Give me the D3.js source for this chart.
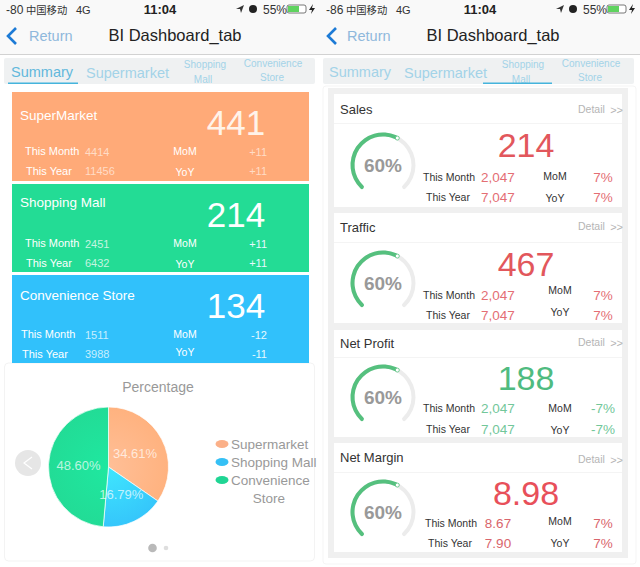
<!DOCTYPE html>
<html>
<head>
    <meta charset="utf-8">
    <title>BI Dashboard_tab</title>
    <script src="https://d3js.org/d3.v7.min.js"></script>
    <style>
        html, body { margin: 0; padding: 0; background: #fff; overflow: hidden; }
        svg { display: block; }
        text { font-family: "Liberation Sans", "Noto Sans CJK SC", sans-serif; }
    </style>
</head>
<body>
<div id="chart"></div>
<script>
    // summary tab
    const storeNames = ['SuperMarket', 'Shopping Mall', 'Convenience Store'];
    const storeTotals = ['441', '214', '134'];
    const storeMonth = ['4414', '2451', '1511'];
    const storeYear = ['11456', '6432', '3988'];
    const storeMoM = ['+11', '+11', '-12'];
    const storeYoY = ['+11', '+11', '-11'];

    // pie
    const pieNames = ['Supermarket', 'Shopping Mall', 'Convenience Store'];
    const pieValues = [34.61, 16.79, 48.60];

    // shopping mall tab
    const kpiNames = ['Sales', 'Traffic', 'Net Profit', 'Net Margin'];
    const kpiTotals = ['214', '467', '188', '8.98'];
    const kpiMonth = ['2,047', '2,047', '2,047', '8.67'];
    const kpiYear = ['7,047', '7,047', '7,047', '7.90'];
    const kpiMoM = ['7%', '7%', '-7%', '7%'];
    const kpiYoY = ['7%', '7%', '-7%', '7%'];
    const kpiGauge = [60, 60, 60, 60];

    const svg = d3.select('#chart').append('svg').attr('width', 640).attr('height', 567);

    function label(g, x, y, str, size, fill, anchor, weight) {
        return g.append('text')
            .attr('x', x).attr('y', y)
            .attr('font-size', size)
            .attr('fill', fill)
            .attr('text-anchor', anchor || 'start')
            .attr('font-weight', weight || 'normal')
            .text(str);
    }

    // 상단 상태바 + 네비게이션 + 탭
    function drawHeader(dx, signal, tabs, underline) {
        const g = svg.append('g').attr('transform', `translate(${dx},0)`);
        g.append('rect').attr('width', 320).attr('height', 54).attr('fill', '#f9f9f9');
        g.append('rect').attr('y', 54).attr('width', 320).attr('height', 1).attr('fill', '#d2d2d2');

        label(g, 6, 14, signal, 12, '#333');
        label(g, 26, 14, '中国移动', 10.3, '#333');
        label(g, 76, 14, '4G', 11, '#333');
        label(g, 160, 14, '11:04', 13, '#222', 'middle', 'bold');

        // location arrow, alarm
        g.append('path').attr('d', 'M236,9 L244,5 L241,13 L240,9 Z').attr('fill', '#333');
        g.append('circle').attr('cx', 253).attr('cy', 9).attr('r', 4).attr('fill', '#222');
        label(g, 263, 14, '55%', 12, '#333');
        g.append('rect').attr('x', 287).attr('y', 5).attr('width', 19).attr('height', 8).attr('rx', 2)
            .attr('fill', '#fff').attr('stroke', '#555').attr('stroke-width', 0.8);
        g.append('rect').attr('x', 288).attr('y', 6).attr('width', 11).attr('height', 6).attr('fill', '#5fd35f');
        g.append('path').attr('d', 'M313,4 L309,10 L312,10 L311,14 L315,8 L312,8 Z').attr('fill', '#222');

        g.append('path').attr('d', 'M16,28 L8,36 L16,44')
            .attr('fill', 'none').attr('stroke', '#1d7bd6').attr('stroke-width', 2.6);
        label(g, dx ? 27 : 29, 41, 'Return', 14.5, '#8fb8dc');
        label(g, dx ? 173 : 175, 41, 'BI Dashboard_tab', 16.5, '#222', 'middle');

        g.append('rect').attr('x', dx ? 3 : 4).attr('y', 58).attr('width', 311).attr('height', 26)
            .attr('rx', 2).attr('fill', '#eff1f2');
        const off = dx ? -2 : 0;
        label(g, 11 + off, 77, tabs[0], 14.5, underline === 0 ? '#62b8dc' : '#a3d3e8');
        label(g, 86 + off, 78, tabs[1], 14.5, '#a3d3e8');
        label(g, 205 + off, 68, 'Shopping', 10, '#a3d3e8', 'middle');
        label(g, 203 + off, 83, 'Mall', 10, '#a3d3e8', 'middle');
        label(g, 273 + off, 67, 'Convenience', 10, '#a3d3e8', 'middle');
        label(g, 272 + off, 81, 'Store', 10, '#a3d3e8', 'middle');
        const ux = underline === 0 ? [8, 78] : [163, 232];
        g.append('rect').attr('x', ux[0]).attr('y', 82.5).attr('width', ux[1] - ux[0]).attr('height', 1.5)
            .attr('fill', '#45b4dc');
    }

    drawHeader(0, '-80', ['Summary', 'Supermarket'], 0);
    drawHeader(320, '-86', ['Summary', 'Supermarket'], 2);

    // ---- 왼쪽: summary
    const left = svg.append('g');
    left.append('rect').attr('x', 4.5).attr('y', 363).attr('width', 310).attr('height', 198).attr('rx', 4)
        .attr('fill', '#fff').attr('stroke', '#f3f3f3');

    const cardColors = ['#ffaa78', '#23dc95', '#31c1fb'];
    const cardTops = [92, 184, 275];
    const cardHeights = [89, 88, 88];
    const cardTitleY = [28, 23, 25];
    const valueFills = ['#ffdcc6', '#c4f5e0', '#c8eefe'];
    const changeFills = ['#ffdcc6', '#e6f9ff', '#e6f9ff'];
    const labelDx = [0, 0, -4];
    const cardYoyY = [84, 84, 81];

    storeNames.forEach((name, i) => {
        const g = left.append('g').attr('transform', `translate(0,${cardTops[i]})`);
        g.append('rect').attr('x', 12).attr('width', 297).attr('height', cardHeights[i]).attr('fill', cardColors[i]);
        label(g, 20, cardTitleY[i], name, 13.5, '#fff');
        label(g, 236, 43, storeTotals[i], 35, i === 0 ? '#fff3e9' : '#fff', 'middle');
        label(g, 25 + labelDx[i], 63, 'This Month', 11, '#fff');
        label(g, 26 + labelDx[i], 83, 'This Year', 11, '#fff');
        label(g, 85, 64, storeMonth[i], 11, valueFills[i]);
        label(g, 85, 83, storeYear[i], 11, valueFills[i]);
        label(g, 185, 63, 'MoM', 10.5, '#fff', 'middle');
        label(g, 185, cardYoyY[i], 'YoY', 10.5, '#fff', 'middle');
        label(g, 267, 64, storeMoM[i], 11, changeFills[i], 'end');
        label(g, 267, 83, storeYoY[i], 11, changeFills[i], 'end');
    });

    // pie
    label(left, 158, 392, 'Percentage', 14, '#999', 'middle');

    const pieColors = d3.scaleOrdinal().domain(pieNames).range(['#ffb27f', '#35c6fb', '#22dc96']);
    const pieInner = d3.scaleOrdinal().domain(pieNames).range(['#ffbf97', '#3fe7fd', '#1fe8a0']);

    const defs = svg.append('defs');
    pieNames.forEach((name, i) => {
        const grad = defs.append('radialGradient').attr('id', 'slice' + i)
            .attr('gradientUnits', 'userSpaceOnUse')
            .attr('cx', 0).attr('cy', 0).attr('r', 60);
        grad.append('stop').attr('offset', '0%').attr('stop-color', pieInner(name));
        grad.append('stop').attr('offset', '100%').attr('stop-color', pieColors(name));
    });

    const pieG = left.append('g').attr('transform', 'translate(108.5,467)');
    const slices = d3.pie().sort(null).value(d => d)(pieValues);
    const arc = d3.arc().innerRadius(0).outerRadius(60);
    const labelArc = d3.arc().innerRadius(30).outerRadius(30);

    pieG.selectAll('path').data(slices).join('path')
        .attr('d', arc)
        .attr('fill', (d, i) => `url(#slice${i})`)
        .attr('stroke', '#fff')
        .attr('stroke-width', 0.7);

    pieG.selectAll('text').data(slices).join('text')
        .attr('transform', d => `translate(${labelArc.centroid(d)})`)
        .attr('dy', '0.35em')
        .attr('text-anchor', 'middle')
        .attr('font-size', 13)
        .attr('fill', '#fff')
        .attr('fill-opacity', 0.7)
        .text(d => d.value.toFixed(2) + '%');

    // legend
    const legendY = [444, 462, 480];
    const legendFill = ['#fbb088', '#35c0f5', '#20d594'];
    legendY.forEach((y, i) => {
        left.append('ellipse').attr('cx', 222).attr('cy', y).attr('rx', 6.5).attr('ry', 4).attr('fill', legendFill[i]);
    });
    label(left, 231, 449, pieNames[0], 13.5, '#999');
    label(left, 231, 467, pieNames[1], 13.5, '#999');
    label(left, 231, 485, pieNames[2].split(' ')[0], 13.5, '#999');
    label(left, 269, 503, pieNames[2].split(' ')[1], 13.5, '#999', 'middle');

    left.append('circle').attr('cx', 28).attr('cy', 463).attr('r', 13).attr('fill', '#e6e6e6');
    left.append('path').attr('d', 'M32,457 L24,463 L32,469').attr('fill', 'none').attr('stroke', '#fff').attr('stroke-width', 1.2);
    left.append('circle').attr('cx', 152.5).attr('cy', 548).attr('r', 4.3).attr('fill', '#b9b9b9');
    left.append('circle').attr('cx', 166).attr('cy', 548).attr('r', 2.3).attr('fill', '#dedede');

    // ---- 오른쪽: shopping mall
    const right = svg.append('g').attr('transform', 'translate(320,0)');
    right.append('rect').attr('x', 3).attr('y', 86).attr('width', 313).attr('height', 478).attr('rx', 3)
        .attr('fill', '#fff').attr('stroke', '#f5f5f5');
    right.append('rect').attr('x', 8).attr('y', 88).attr('width', 300).attr('height', 470).attr('fill', '#f0f0f0');

    const kpiTops = [94, 213, 330, 443];
    const kpiHeights = [113, 110, 107, 109];
    const kpiLine = [29, 29, 27, 29];
    const kpiCenter = [71, 70, 67, 69];
    const kpiBase = [63, 63, 60, 62];
    const kpiFill = ['#e2575c', '#e2575c', '#4fbb80', '#e8505a'];
    const kpiSub = ['#e46e74', '#e46e74', '#72c79a', '#d9656c'];
    const titleY = [20, 19, 18, 19];
    const detailY = [19, 17, 16, 20];
    const monthY = [87, 86, 82, 84];
    const yearY = [107, 106, 103, 104];
    const momY = [86, 81, 82, 82];
    const yoyY = [108, 103, 104, 104];
    const labelDxKpi = [0, 0, 0, 2];

    const gaugeAngle = d3.scaleLinear().domain([0, 100]).range([-140, 140].map(d => d * Math.PI / 180));
    const gaugeArc = d3.arc().innerRadius(28.5).outerRadius(32.5).cornerRadius(2);

    kpiNames.forEach((name, i) => {
        const g = right.append('g').attr('transform', `translate(0,${kpiTops[i]})`);
        g.append('rect').attr('x', 14).attr('width', 288).attr('height', kpiHeights[i]).attr('fill', '#fff');
        g.append('rect').attr('x', 14).attr('y', kpiLine[i]).attr('width', 288).attr('height', 1).attr('fill', '#f4f4f4');
        label(g, 20, titleY[i], name, 13, '#333');
        label(g, 258, detailY[i], 'Detail', 10.5, '#b5b5b5');
        label(g, 303, detailY[i] + 1, '>>', 11, '#b5b5b5', 'end');

        // gauge
        const cx = g.append('g').attr('transform', `translate(63,${kpiCenter[i]})`);
        cx.append('path').attr('fill', '#ececec')
            .attr('d', gaugeArc({ startAngle: gaugeAngle(0), endAngle: gaugeAngle(100) }));
        cx.append('path').attr('fill', '#55c07e')
            .attr('d', gaugeArc({ startAngle: gaugeAngle(0), endAngle: gaugeAngle(kpiGauge[i]) }));
        const end = d3.arc().innerRadius(30.5).outerRadius(30.5)
            .centroid({ startAngle: gaugeAngle(kpiGauge[i]), endAngle: gaugeAngle(kpiGauge[i]) });
        cx.append('circle').attr('cx', end[0]).attr('cy', end[1]).attr('r', 2)
            .attr('fill', '#fff').attr('stroke', '#55c07e').attr('stroke-width', 0.8);
        label(cx, 0, 7, kpiGauge[i] + '%', 19, '#999', 'middle', 'bold');

        label(g, 206, kpiBase[i], kpiTotals[i], 34, kpiFill[i], 'middle');
        label(g, 129 + labelDxKpi[i], monthY[i], 'This Month', 10.5, '#333', 'middle');
        label(g, 128 + labelDxKpi[i], yearY[i], 'This Year', 10.5, '#333', 'middle');
        label(g, 178, monthY[i] + 1, kpiMonth[i], 13.5, kpiSub[i], 'middle');
        label(g, 178, yearY[i] + 1, kpiYear[i], 13.5, kpiSub[i], 'middle');
        label(g, 235 + (i ? 5 : 0), momY[i], 'MoM', 10.5, '#333', 'middle');
        label(g, 235 + (i ? 5 : 0), yoyY[i], 'YoY', 10.5, '#333', 'middle');
        label(g, 283, monthY[i] + 1, kpiMoM[i], 13.5, kpiSub[i], 'middle');
        label(g, 283, yearY[i] + 1, kpiYoY[i], 13.5, kpiSub[i], 'middle');
    });
</script>
</body>
</html>
